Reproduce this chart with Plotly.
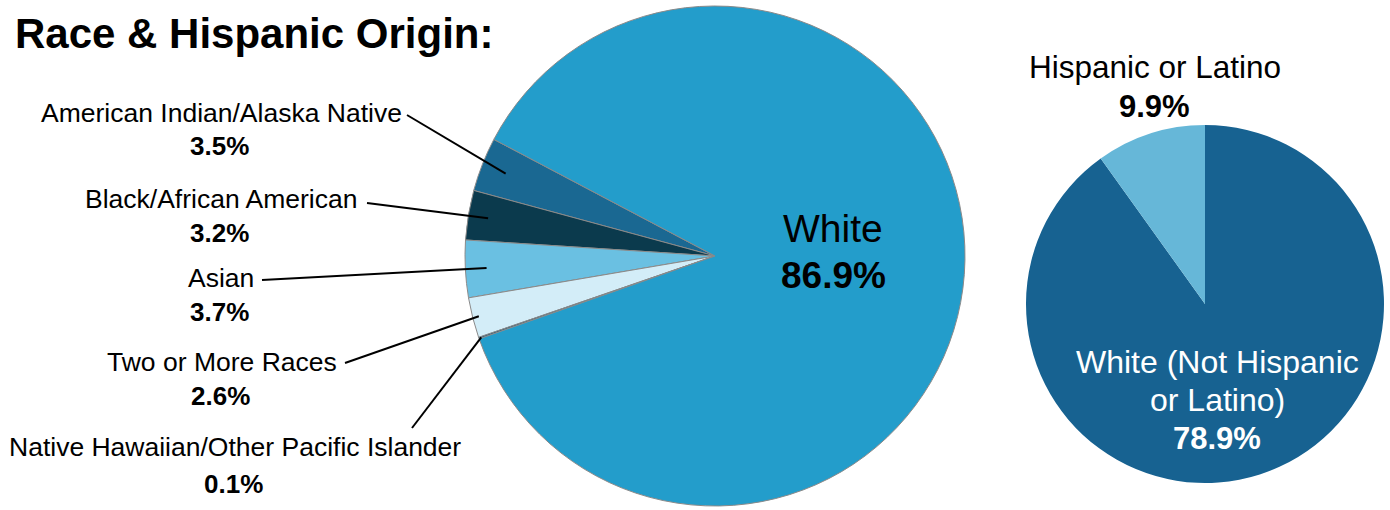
import math
import plotly.graph_objects as go

# ---------------- data ----------------
race_labels = ["American Indian/Alaska Native", "Black/African American", "Asian",
               "Two or More Races", "Native Hawaiian/Other Pacific Islander", "White"]
race_values = [3.5, 3.2, 3.7, 2.6, 0.1, 86.9]

hisp_labels = ["Not Hispanic or Latino", "Hispanic or Latino"]
hisp_values = [90.1, 9.9]
white_not_hisp_label = "White (Not Hispanic<br>or Latino)"
white_not_hisp_value = 78.9

title_text = "Race & Hispanic Origin:"

# ---------------- style ----------------
W, H = 1390, 510
FONT = "Liberation Sans, Arial, sans-serif"
race_colors = ["#1A6892", "#0B3A4D", "#6AC0E2", "#D3EDF8", "#145073", "#239DCB"]
hisp_colors = ["#176291", "#66B7D8"]

big_cx, big_cy, big_r = 715, 256, 250
small_cx, small_cy, small_r = 1205, 304, 179
big_rotation = -74.8

fig = go.Figure()

fig.add_trace(go.Pie(
    labels=race_labels, values=race_values, sort=False, direction="counterclockwise",
    rotation=big_rotation, textinfo="none", hoverinfo="label+percent",
    marker=dict(colors=race_colors, line=dict(color="#8a8a8a", width=1)),
    domain=dict(x=[(big_cx - big_r) / W, (big_cx + big_r) / W],
                y=[(H - big_cy - big_r) / H, (H - big_cy + big_r) / H]),
    showlegend=False,
))

fig.add_trace(go.Pie(
    labels=hisp_labels, values=hisp_values, sort=False, direction="counterclockwise",
    rotation=0, textinfo="none", hoverinfo="label+percent",
    marker=dict(colors=hisp_colors, line=dict(width=0)),
    domain=dict(x=[(small_cx - small_r) / W, (small_cx + small_r) / W],
                y=[(H - small_cy - small_r) / H, (H - small_cy + small_r) / H]),
    showlegend=False,
))

# overlay axis in pixel units for annotations and leader lines
fig.update_xaxes(range=[0, W], visible=False, fixedrange=True)
fig.update_yaxes(range=[H, 0], visible=False, fixedrange=True)

annotations = []
shapes = []

annotations.append(dict(x=13, y=33, xref="x", yref="y", text="<b>" + title_text + "</b>",
                        showarrow=False, xanchor="left", yanchor="middle",
                        font=dict(family=FONT, size=42, color="black")))

# left labels
label_pos = [(221, 113, 146), (221, 199, 233), (221, 278, 312), (222, 362, 396), (235, 447, 484)]
line_start = [(407, 115), (367, 203), (262, 280), (345, 363), (412, 428)]
line_rfrac = [0.9, 0.92, 0.915, 0.975, 0.99]

total = sum(race_values)
cum = 0.0
for i in range(5):
    # slice mid angle (clockwise degrees from 12 o'clock), plotly counterclockwise layout
    if i == 0:
        mid = big_rotation + race_values[0] / total * 360 / 2
    else:
        start = big_rotation - cum
        mid = start - race_values[i] / total * 360 / 2
    if i > 0:
        cum += race_values[i] / total * 360
    th = math.radians(mid)
    ex = big_cx + line_rfrac[i] * big_r * math.sin(th)
    ey = big_cy - line_rfrac[i] * big_r * math.cos(th)
    sx, sy = line_start[i]
    shapes.append(dict(type="line", xref="x", yref="y", x0=sx, y0=sy, x1=ex, y1=ey,
                       line=dict(color="black", width=2)))
    cx, ny, py = label_pos[i]
    annotations.append(dict(x=cx, y=ny, xref="x", yref="y", text=race_labels[i],
                            showarrow=False, xanchor="center", yanchor="middle",
                            font=dict(family=FONT, size=26.5, color="black")))
    annotations.append(dict(x=cx - 2, y=py, xref="x", yref="y",
                            text="<b>%.1f%%</b>" % race_values[i],
                            showarrow=False, xanchor="center", yanchor="middle",
                            font=dict(family=FONT, size=26, color="black")))

# White label inside big pie
annotations.append(dict(x=833, y=228, xref="x", yref="y", text=race_labels[5],
                        showarrow=False, xanchor="center", yanchor="middle",
                        font=dict(family=FONT, size=39, color="black")))
annotations.append(dict(x=833, y=275, xref="x", yref="y", text="<b>%.1f%%</b>" % race_values[5],
                        showarrow=False, xanchor="center", yanchor="middle",
                        font=dict(family=FONT, size=37, color="black")))

# Hispanic labels
annotations.append(dict(x=1155, y=67, xref="x", yref="y", text=hisp_labels[1],
                        showarrow=False, xanchor="center", yanchor="middle",
                        font=dict(family=FONT, size=31.5, color="black")))
annotations.append(dict(x=1154, y=106, xref="x", yref="y", text="<b>%.1f%%</b>" % hisp_values[1],
                        showarrow=False, xanchor="center", yanchor="middle",
                        font=dict(family=FONT, size=31, color="black")))
wl = white_not_hisp_label.split("<br>")
annotations.append(dict(x=1217, y=362, xref="x", yref="y", text=wl[0],
                        showarrow=False, xanchor="center", yanchor="middle",
                        font=dict(family=FONT, size=32, color="white")))
annotations.append(dict(x=1217, y=400, xref="x", yref="y", text=wl[1],
                        showarrow=False, xanchor="center", yanchor="middle",
                        font=dict(family=FONT, size=32, color="white")))
annotations.append(dict(x=1217, y=438, xref="x", yref="y", text="<b>%.1f%%</b>" % white_not_hisp_value,
                        showarrow=False, xanchor="center", yanchor="middle",
                        font=dict(family=FONT, size=31, color="white")))

fig.update_layout(
    width=W, height=H, margin=dict(l=0, r=0, t=0, b=0),
    paper_bgcolor="white", plot_bgcolor="rgba(0,0,0,0)",
    annotations=annotations, shapes=shapes,
    font=dict(family=FONT),
)

fig.write_html("out.html")
